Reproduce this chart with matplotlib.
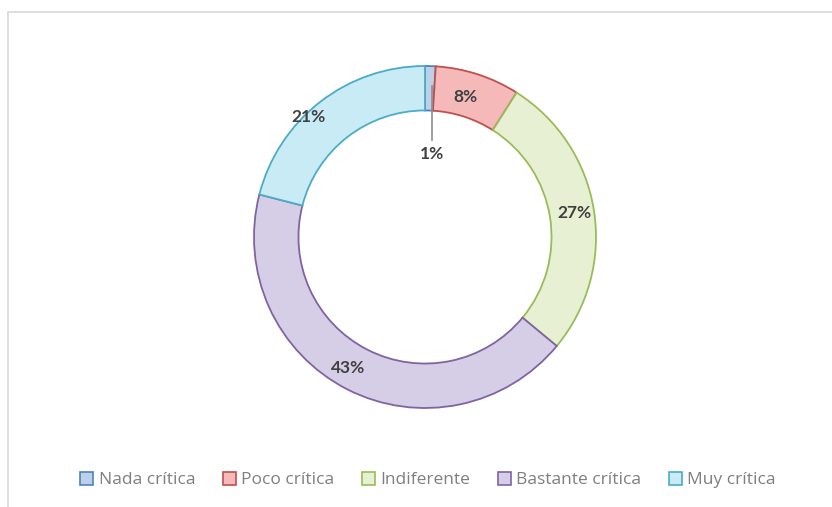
import matplotlib.pyplot as plt
from matplotlib.patches import Rectangle

categories = ["Nada crítica", "Poco crítica", "Indiferente", "Bastante crítica", "Muy crítica"]
values = [1, 8, 27, 43, 21]
labels = ["1%", "8%", "27%", "43%", "21%"]
fills = ["#bcd0ea", "#f4b9b8", "#e7f0d2", "#d6cde6", "#c8ebf6"]
edges = ["#4f81bd", "#c0504d", "#9bbb59", "#8064a2", "#4bacc6"]

plt.rcParams['font.family'] = ['Open Sans', 'DejaVu Sans']

W, H = 832, 507
fig = plt.figure(figsize=(W / 100, H / 100), dpi=100)

# chart border
fig.patches.append(Rectangle((8 / W, -0.1), 1.2, (H - 12) / H + 0.1, transform=fig.transFigure,
                             fill=False, edgecolor="#d9d9d9", linewidth=1.2))

cx, cy, r = 425, 237, 171
ax = fig.add_axes([(cx - r) / W, (H - cy - r) / H, 2 * r / W, 2 * r / H])

wedges, _ = ax.pie(values, radius=1.0, startangle=90, counterclock=False,
                   colors=fills, wedgeprops=dict(width=0.26, linewidth=1.3))
for w, ec in zip(wedges, edges):
    w.set_edgecolor(ec)
ax.set_xlim(-1, 1)
ax.set_ylim(-1, 1)
ax.set_aspect("equal")
ax.axis("off")

# data labels (pixel positions)
label_pos = {"1%": (432, 154), "8%": (465, 97), "27%": (574, 213), "43%": (348, 368), "21%": (309, 117)}
for lab in labels:
    px, py = label_pos[lab]
    fig.text(px / W, 1 - py / H, lab, ha="center", va="center", fontsize=12.5,
             fontweight="bold", color="#404040", family=["Lato", "DejaVu Sans"])

# leader line for the 1% slice
fig.add_artist(plt.Line2D([432 / W, 432 / W], [1 - 86 / H, 1 - 140 / H],
                          color="#8c8c8c", linewidth=1.2, transform=fig.transFigure))

handles = [Rectangle((0, 0), 1, 1, facecolor=f, edgecolor=e, linewidth=1.2) for f, e in zip(fills, edges)]
fig.legend(handles, categories, loc="center", bbox_to_anchor=(428 / W, 1 - 480 / H), ncol=5,
           frameon=False, fontsize=12.5, labelcolor="#7f7f7f", handlelength=0.75, handleheight=0.75,
           handletextpad=0.3, columnspacing=1.6)

fig.savefig("out.png", dpi=100, facecolor="white")
